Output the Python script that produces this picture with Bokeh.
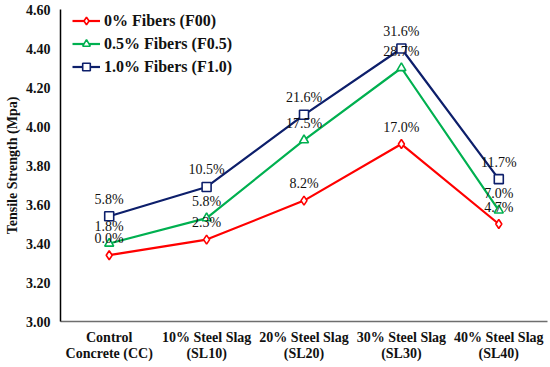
from bokeh.plotting import figure
from bokeh.models import ColumnDataSource, LabelSet, Legend, LegendItem, FixedTicker, NumeralTickFormatter
from bokeh.embed import file_html
from bokeh.resources import INLINE

categories = ["Control\nConcrete (CC)", "10% Steel Slag\n(SL10)", "20% Steel Slag\n(SL20)",
              "30% Steel Slag\n(SL30)", "40% Steel Slag\n(SL40)"]
f00 = [3.34, 3.42, 3.62, 3.91, 3.50]
f05 = [3.40, 3.53, 3.93, 4.30, 3.57]
f10 = [3.54, 3.69, 4.06, 4.40, 3.73]
f00_pct = ["0.0%", "2.3%", "8.2%", "17.0%", "4.7%"]
f05_pct = ["1.8%", "5.8%", "17.5%", "28.7%", "7.0%"]
f10_pct = ["5.8%", "10.5%", "21.6%", "31.6%", "11.7%"]
y_ticks = [3.00, 3.20, 3.40, 3.60, 3.80, 4.00, 4.20, 4.40, 4.60]
series_names = ["0% Fibers (F00)", "0.5% Fibers (F0.5)", "1.0% Fibers (F1.0)"]

SERIF = "Liberation Serif"

p = figure(width=550, height=367, x_range=categories, y_range=(3.0, 4.6),
           output_backend="svg", toolbar_location=None,
           min_border_left=60, min_border_right=3, min_border_top=9, min_border_bottom=46)
p.outline_line_color = None
p.xgrid.visible = False
p.ygrid.visible = False
p.x_range.range_padding = 0

# axes
p.yaxis.ticker = FixedTicker(ticks=y_ticks)
p.yaxis.formatter = NumeralTickFormatter(format="0.00")
p.yaxis.axis_label = "Tensile Strength (Mpa)"
p.yaxis.axis_label_text_font = SERIF
p.yaxis.axis_label_text_font_style = "bold"
p.yaxis.axis_label_text_font_size = "14px"
p.yaxis.axis_label_text_color = "#111111"
p.yaxis.axis_label_standoff = 3
for ax in (p.xaxis, p.yaxis):
    ax.major_label_text_font = SERIF
    ax.major_label_text_font_style = "bold"
    ax.major_label_text_font_size = "14px"
    ax.major_label_text_color = "#111111"
    ax.major_tick_line_color = None
    ax.minor_tick_line_color = None
    ax.major_tick_out = 0
    ax.major_tick_in = 0
p.yaxis.major_label_standoff = 10
p.xaxis.major_label_standoff = 8
p.xaxis.major_label_text_line_height = 1.1
p.yaxis.axis_line_color = "black"
p.yaxis.axis_line_width = 1.5
p.xaxis.axis_line_color = "#6e6e6e"
p.xaxis.axis_line_width = 1.5

colors = ["#FF0000", "#00B050", "#0D1F6B"]
markers = ["diamond", "triangle", "square"]
values = [f00, f05, f10]
pcts = [f00_pct, f05_pct, f10_pct]

items = []
for name, vals, pc, col, mk in zip(series_names, values, pcts, colors, markers):
    src = ColumnDataSource(dict(x=categories, y=vals, t=pc))
    ln = p.line("x", "y", source=src, line_color=col, line_width=2.2)
    sc = p.scatter("x", "y", source=src, marker=mk, size=9, line_color=col,
                   fill_color="white", line_width=1.6)
    items.append(LegendItem(label=name, renderers=[ln, sc]))
    lab = LabelSet(x="x", y="y", text="t", source=src, text_align="center",
                   text_baseline="middle", y_offset=17, text_font=SERIF,
                   text_font_size="14px", text_color="#111111")
    p.add_layout(lab)

legend = Legend(items=items, location=(12, 245), margin=0, padding=0, spacing=4,
                label_height=19, glyph_height=19, glyph_width=28, label_standoff=4,
                border_line_color=None, background_fill_alpha=0,
                label_text_font=SERIF, label_text_font_style="bold",
                label_text_font_size="16px", label_text_color="#111111")
p.add_layout(legend)

open("out.html", "w").write(file_html(p, INLINE))
